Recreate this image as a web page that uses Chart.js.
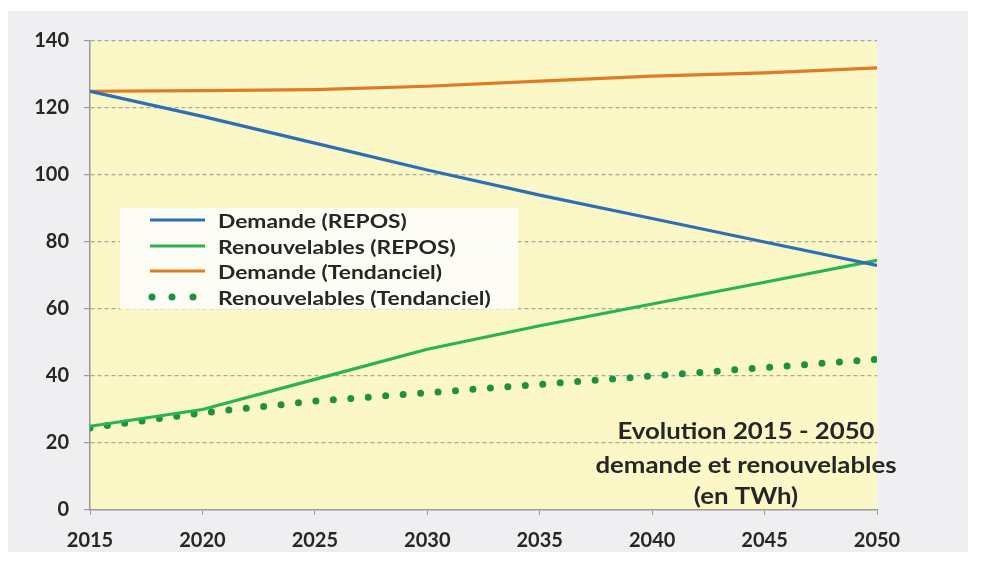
<!DOCTYPE html>
<html>
<head>
<meta charset="utf-8">
<script src="https://cdn.jsdelivr.net/npm/chart.js@4"></script>
<style>
  html, body { margin: 0; padding: 0; background: #ffffff; }
  #wrap { width: 995px; height: 566px; }
</style>
</head>
<body>
<div id="wrap"><canvas id="myChart" width="995" height="566"></canvas></div>
<script>
// Demande et renouvelables, en TWh
const years = [2015, 2020, 2025, 2030, 2035, 2040, 2045, 2050];
const demandeRepos = [125, 117.5, 109.5, 101.5, 94, 87, 80, 73];
const renouvRepos = [25, 30, 39, 48, 55, 61.5, 68, 74.5];
const demandeTend = [125, 125.2, 125.5, 126.5, 128, 129.5, 130.5, 132];
const renouvTend = [24.5, 29, 32.5, 35, 37.5, 40, 42.5, 45];
const seriesNames = ['Demande (REPOS)', 'Renouvelables (REPOS)', 'Demande (Tendanciel)', 'Renouvelables (Tendanciel)'];
const noteLines = ['Evolution 2015 - 2050', 'demande et renouvelables', '(en TWh)'];

const FONT = 'Lato, "Open Sans", sans-serif';
const pts = vals => vals.map((v, i) => ({ x: years[i], y: v }));

// text drawn a little wider than the font's natural width
function wideText(ctx, text, x, y, sx) {
    ctx.save();
    ctx.translate(x, y);
    ctx.scale(sx, 1);
    ctx.fillText(text, 0, 0);
    ctx.restore();
}

// backgrounds: outer panel + yellow plot area
const bgPlugin = {
    id: 'bg',
    beforeDraw(chart) {
        const { ctx, chartArea: a } = chart;
        ctx.save();
        ctx.fillStyle = '#ffffff';
        ctx.fillRect(0, 0, chart.width, chart.height);
        ctx.fillStyle = '#efeff1';
        ctx.fillRect(8, 11, 960, 541);
        ctx.fillStyle = '#fbf7c6';
        ctx.fillRect(a.left, a.top, a.right - a.left, a.bottom - a.top);
        ctx.restore();
    }
};

// legend box inside the plot and the caption bottom right
const overlayPlugin = {
    id: 'overlay',
    afterDatasetsDraw(chart) {
        const ctx = chart.ctx;
        ctx.save();
        ctx.fillStyle = 'rgba(253,253,250,0.93)';
        ctx.fillRect(120, 208, 398, 101);

        const rowY = [220, 246, 271, 297];
        ctx.font = 'bold 19px ' + FONT;
        ctx.textBaseline = 'middle';
        ctx.textAlign = 'left';
        chart.data.datasets.forEach((ds, i) => {
            const y = rowY[i];
            ctx.strokeStyle = ds.borderColor;
            if (ds.borderDash && ds.borderDash.length) {
                ctx.fillStyle = ds.borderColor;
                [152, 172, 193].forEach(x => {
                    ctx.beginPath();
                    ctx.arc(x, y, 3.5, 0, Math.PI * 2);
                    ctx.fill();
                });
            } else {
                ctx.lineWidth = 3;
                ctx.beginPath();
                ctx.moveTo(150, y);
                ctx.lineTo(205, y);
                ctx.stroke();
            }
            ctx.fillStyle = '#262626';
            wideText(ctx, ds.label, 218, y + 2, 1.2);
        });

        ctx.font = 'bold 23px ' + FONT;
        ctx.textAlign = 'center';
        ctx.fillStyle = '#262626';
        [432, 466, 497].forEach((y, i) => wideText(ctx, noteLines[i], 746, y, 1.12));
        ctx.restore();
    }
};

const ctx = document.getElementById('myChart').getContext('2d');
const myChart = new Chart(ctx, {
    type: 'line',
    data: {
        datasets: [{
            label: seriesNames[0],
            data: pts(demandeRepos),
            borderColor: '#2d6fb5',
            borderWidth: 3.2
        }, {
            label: seriesNames[1],
            data: pts(renouvRepos),
            borderColor: '#29b352',
            borderWidth: 3.2
        }, {
            label: seriesNames[2],
            data: pts(demandeTend),
            borderColor: '#e07b22',
            borderWidth: 3.2
        }, {
            label: seriesNames[3],
            data: pts(renouvTend),
            borderColor: '#1d9143',
            borderWidth: 7,
            borderDash: [0, 17.5],
            borderCapStyle: 'round'
        }]
    },
    options: {
        responsive: false,
        animation: false,
        events: [],
        elements: { point: { radius: 0 }, line: { tension: 0 } },
        layout: { padding: { top: 41, right: 118, left: 0, bottom: 0 } },
        plugins: { legend: { display: false }, tooltip: { enabled: false } },
        scales: {
            x: {
                type: 'linear',
                min: 2015,
                max: 2050,
                afterFit: s => { s.height = 56; },
                ticks: {
                    stepSize: 5,
                    padding: 14,
                    color: '#262626',
                    font: { family: FONT, size: 20, weight: 'bold' },
                    callback: v => String(v)
                },
                grid: { drawOnChartArea: false, tickLength: 5, tickColor: '#9a9a9a' },
                border: { color: '#9a9a9a', width: 1.5 }
            },
            y: {
                min: 0,
                max: 140,
                afterFit: s => { s.width = 90; },
                ticks: {
                    stepSize: 20,
                    padding: 15,
                    color: '#262626',
                    font: { family: FONT, size: 20, weight: 'bold' }
                },
                grid: {
                    color: c => c.tick && c.tick.value === 0 ? 'rgba(0,0,0,0)' : '#a8a8a0',
                    lineWidth: 1.2,
                    tickLength: 6,
                    tickColor: '#9a9a9a'
                },
                border: { color: '#9a9a9a', width: 1.5, dash: [4, 3] }
            }
        }
    },
    plugins: [bgPlugin, overlayPlugin]
});
</script>
</body>
</html>
